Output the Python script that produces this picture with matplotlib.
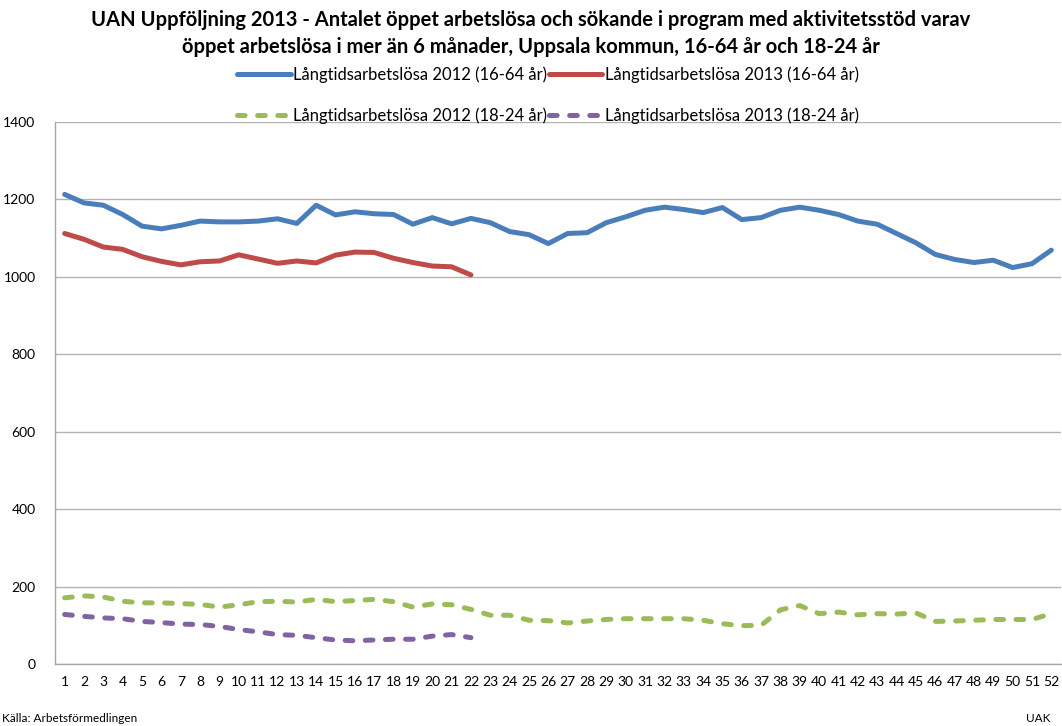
import matplotlib
matplotlib.use("Agg")
import matplotlib.pyplot as plt
import numpy as np

plt.rcParams['font.family'] = ['Lato', 'DejaVu Sans']
plt.rcParams['lines.scale_dashes'] = False

weeks = list(range(1, 53))
weeks_2013 = list(range(1, 23))

long_2012_16_64 = [1213, 1191, 1185, 1161, 1131, 1124, 1133, 1144, 1142, 1142,
                   1144, 1150, 1138, 1185, 1160, 1168, 1163, 1161, 1136, 1153,
                   1137, 1151, 1140, 1117, 1109, 1086, 1112, 1114, 1140, 1155,
                   1172, 1180, 1174, 1166, 1179, 1148, 1153, 1172, 1180, 1172,
                   1161, 1144, 1136, 1112, 1088, 1058, 1045, 1037, 1043, 1024,
                   1034, 1069]
long_2013_16_64 = [1112, 1097, 1077, 1071, 1052, 1040, 1031, 1039, 1041, 1057,
                   1046, 1035, 1041, 1036, 1056, 1064, 1063, 1048, 1037, 1028,
                   1026, 1005]
long_2012_18_24 = [171, 176, 173, 162, 158, 158, 156, 154, 147, 153,
                   161, 162, 160, 167, 161, 164, 167, 161, 147, 155,
                   153, 141, 126, 126, 113, 112, 106, 111, 115, 117,
                   117, 117, 117, 113, 104, 99, 100, 140, 151, 130,
                   134, 127, 130, 129, 132, 110, 111, 113, 115, 115,
                   115, 130]
long_2013_18_24 = [128, 123, 119, 117, 110, 107, 103, 102, 97, 89,
                   83, 76, 74, 68, 62, 60, 62, 64, 64, 72,
                   76, 68]

labels = ["Långtidsarbetslösa 2012 (16-64 år)", "Långtidsarbetslösa 2013 (16-64 år)",
          "Långtidsarbetslösa 2012 (18-24 år)", "Långtidsarbetslösa 2013 (18-24 år)"]
yticks = [0, 200, 400, 600, 800, 1000, 1200, 1400]

fig = plt.figure(figsize=(10.62, 7.26), dpi=100)
ax = fig.add_axes([55/1062, 1-664/726, 1006/1062, 542/726])

lw = 3.6
l1, = ax.plot(weeks, long_2012_16_64, color='#4A7EBB', lw=lw, solid_capstyle='round', solid_joinstyle='round', label=labels[0])
l2, = ax.plot(weeks_2013, long_2013_16_64, color='#BE4B48', lw=lw, solid_capstyle='round', solid_joinstyle='round', label=labels[1])
l3, = ax.plot(weeks, long_2012_18_24, color='#9BBB59', lw=lw, dashes=(5.5, 9), dash_capstyle='round', dash_joinstyle='round', label=labels[2])
l4, = ax.plot(weeks_2013, long_2013_18_24, color='#8064A2', lw=lw, dashes=(5.5, 9), dash_capstyle='round', dash_joinstyle='round', label=labels[3])

ax.set_xlim(0.5, 52.5)
ax.set_ylim(0, 1400)
ax.set_yticks(yticks)
ax.set_yticklabels([str(v) for v in yticks])
ax.set_xticks(weeks)
ax.set_xticklabels([str(w) for w in weeks])
ax.tick_params(axis='both', length=0, labelsize=10, colors='#000000')
ax.tick_params(axis='x', pad=9)
ax.tick_params(axis='y', pad=14)
ax.grid(axis='y', color='#B3B3B3', lw=1)
ax.set_axisbelow(True)
for s in ['top', 'right']:
    ax.spines[s].set_visible(False)
for s in ['left', 'bottom']:
    ax.spines[s].set_color('#A6A6A6')
    ax.spines[s].set_linewidth(1)

fig.text(0.5, 1-20/726, "UAN Uppföljning 2013 - Antalet öppet arbetslösa och sökande i program med aktivitetsstöd varav",
         ha='center', va='center', fontsize=14.5, fontweight='bold')
fig.text(0.5, 1-47/726, "öppet arbetslösa i mer än 6 månader, Uppsala kommun, 16-64 år och 18-24 år",
         ha='center', va='center', fontsize=14.5, fontweight='bold')

leg = fig.legend(handles=[l1, l3, l2, l4], loc='center', bbox_to_anchor=(548/1062, 1-95/726),
                 ncol=2, frameon=False, fontsize=12, handlelength=3.2, handletextpad=0.15,
                 columnspacing=0.1, labelspacing=1.45)

fig.text(2/1062, 1-718/726, "Källa: Arbetsförmedlingen", ha='left', va='center', fontsize=8.5)
fig.text(1050/1062, 1-718/726, "UAK", ha='right', va='center', fontsize=8.5)

fig.savefig("out.png", dpi=100)
